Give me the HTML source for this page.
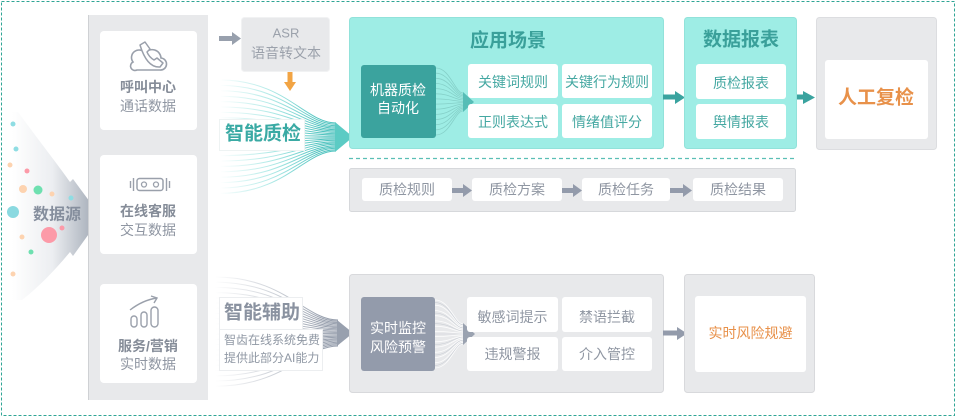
<!DOCTYPE html>
<html><head><meta charset="utf-8">
<style>
html,body{margin:0;padding:0;background:#fff;}
body{width:957px;height:418px;overflow:hidden;}
svg{display:block;}
text{font-family:"Liberation Sans","Noto Sans CJK SC",sans-serif;dominant-baseline:central;}
.c{text-anchor:middle;}
.g{fill:#8f96a2;font-size:14px;}
.gb{fill:#858c98;font-size:14px;font-weight:bold;}
.t{fill:#45a8a2;font-size:14px;}
</style></head>
<body>
<svg width="957" height="418" viewBox="0 0 957 418" xmlns="http://www.w3.org/2000/svg">
<defs>
<linearGradient id="ds" x1="12" y1="0" x2="102" y2="0" gradientUnits="userSpaceOnUse">
<stop offset="0" stop-color="#ffffff"/><stop offset="0.45" stop-color="#eceef1"/><stop offset="1" stop-color="#97a0ad"/></linearGradient>
<linearGradient id="ft" x1="220" y1="0" x2="318" y2="0" gradientUnits="userSpaceOnUse">
<stop offset="0" stop-color="#7fdcd8" stop-opacity="0"/><stop offset="0.5" stop-color="#7fdcd8" stop-opacity="0.6"/><stop offset="1" stop-color="#4fc3bf"/></linearGradient>
<linearGradient id="fb" x1="215" y1="0" x2="322" y2="0" gradientUnits="userSpaceOnUse">
<stop offset="0" stop-color="#b4bac4" stop-opacity="0"/><stop offset="0.5" stop-color="#b4bac4" stop-opacity="0.6"/><stop offset="1" stop-color="#98a0ae"/></linearGradient>
</defs>

<!-- outer dashed border -->
<rect x="1.5" y="1.5" width="953" height="414" fill="none" stroke="#2fa595" stroke-width="1" stroke-dasharray="3 2"/>

<!-- data source arrow -->
<path d="M18,112 C40,142 58,165 70,182 L73,179 L101,217 L73,256 L70,252 C55,270 40,286 22,300 L12,300 L12,112 Z" fill="url(#ds)"/>
<g>
<circle cx="13" cy="124" r="2.5" fill="#8fdde3"/>
<circle cx="16" cy="149" r="2.5" fill="#8fdde3"/>
<circle cx="10" cy="165" r="2.5" fill="#fdd3b0"/>
<circle cx="27" cy="171" r="2.5" fill="#fc9aa8"/>
<circle cx="23" cy="189" r="4" fill="#fdd3b0"/>
<circle cx="38" cy="190" r="4.5" fill="#6ee0b0"/>
<circle cx="52" cy="194" r="2.5" fill="#fdd3b0"/>
<circle cx="71" cy="198" r="2.5" fill="#8fdde3"/>
<circle cx="13" cy="212" r="6" fill="#8ad9e0"/>
<circle cx="62" cy="228" r="2.5" fill="#fc9aa8"/>
<circle cx="49" cy="235" r="8" fill="#fc9aa8"/>
<circle cx="22" cy="237" r="2.5" fill="#fdd3b0"/>
<circle cx="31" cy="252" r="2.5" fill="#6ee0b0"/>
<circle cx="13" cy="274" r="2.5" fill="#fdd3b0"/>
</g>
<text x="57" y="215" class="c" style="fill:#858e9d;font-size:16px;font-weight:bold;">数据源</text>

<!-- left column -->
<rect x="89" y="15" width="119" height="385" fill="#e8e9eb"/>
<line x1="88.5" y1="15" x2="88.5" y2="400" stroke="#cfd1d4"/>
<rect x="100" y="31" width="97" height="99" rx="4" fill="#fff"/>
<rect x="100" y="155" width="97" height="99" rx="4" fill="#fff"/>
<rect x="100" y="284" width="97" height="99" rx="4" fill="#fff"/>

<!-- icon 1 cloud phone -->
<path d="M137,70 H160 A6,6 0 0 0 161,58 A9,9 0 0 0 145,53 A7,7 0 0 0 133,62 A4,4 0 0 0 137,70 Z" fill="#fff" stroke="#9aa0ab" stroke-width="1.6"/>
<path d="M140,45 L145,42 L150,49 L147,52 Q149,57 154,60 L157,58 L163,63 L160,67 Q147,68 140,45 Z" fill="#fff" stroke="#9aa0ab" stroke-width="1.5" stroke-linejoin="round"/>
<text x="148" y="87" class="c gb">呼叫中心</text>
<text x="148" y="106" class="c g">通话数据</text>

<!-- icon 2 robot -->
<rect x="137" y="178.5" width="26" height="12" rx="2.5" fill="none" stroke="#9aa0ab" stroke-width="1.5"/>
<circle cx="144" cy="184.5" r="2.5" fill="none" stroke="#9aa0ab" stroke-width="1.3"/>
<circle cx="156" cy="184.5" r="2.5" fill="none" stroke="#9aa0ab" stroke-width="1.3"/>
<line x1="130.5" y1="181" x2="130.5" y2="188" stroke="#9aa0ab" stroke-width="1.4"/>
<line x1="133.5" y1="178" x2="133.5" y2="191" stroke="#9aa0ab" stroke-width="1.4"/>
<line x1="166.5" y1="178" x2="166.5" y2="191" stroke="#9aa0ab" stroke-width="1.4"/>
<line x1="169.5" y1="181" x2="169.5" y2="188" stroke="#9aa0ab" stroke-width="1.4"/>
<text x="148" y="211" class="c gb">在线客服</text>
<text x="148" y="230" class="c g">交互数据</text>

<!-- icon 3 chart -->
<rect x="131" y="316" width="6" height="11" rx="3" fill="none" stroke="#9aa0ab" stroke-width="1.4"/>
<rect x="141" y="312" width="6" height="15" rx="3" fill="none" stroke="#9aa0ab" stroke-width="1.4"/>
<rect x="151" y="307" width="7" height="20" rx="3.5" fill="none" stroke="#9aa0ab" stroke-width="1.4"/>
<path d="M130,310 Q143,300 157,298" fill="none" stroke="#9aa0ab" stroke-width="1.4"/>
<polyline points="151,296 157,298 154,303" fill="none" stroke="#9aa0ab" stroke-width="1.4"/>
<text x="148" y="346" class="c gb">服务/营销</text>
<text x="148" y="364" class="c g">实时数据</text>

<!-- ASR -->
<rect x="219" y="36" width="13" height="5" fill="#98a0ad"/>
<polygon points="232,32 232,45 241,38.5" fill="#98a0ad"/>
<rect x="241.5" y="17.5" width="88" height="54" rx="3" fill="#e8e9eb" stroke="#f1f2f3"/>
<text x="286" y="33" class="c" style="fill:#9ba1ab;font-size:13px;">ASR</text>
<text x="286" y="53" class="c" style="fill:#9ba1ab;font-size:14px;">语音转文本</text>
<rect x="287.5" y="72" width="5" height="10" fill="#f2a444"/>
<polygon points="284,82 296,82 290,91" fill="#f2a444"/>

<!-- top fan -->
<g fill="none" stroke="url(#ft)" stroke-width="1">
<path d="M220,80 C285,80 305,123 336,123"/>
<path d="M220,85.4 C285,85.4 305,124.3 336,124.3"/>
<path d="M220,90.8 C285,90.8 305,125.7 336,125.7"/>
<path d="M220,96.2 C285,96.2 305,127 336,127"/>
<path d="M220,101.6 C285,101.6 305,128.3 336,128.3"/>
<path d="M220,107 C285,107 305,129.7 336,129.7"/>
<path d="M220,112.4 C285,112.4 305,131 336,131"/>
<path d="M220,117.8 C285,117.8 305,132.3 336,132.3"/>
<path d="M220,123.2 C285,123.2 305,133.7 336,133.7"/>
<path d="M220,128.6 C285,128.6 305,135 336,135"/>
<path d="M220,134 C285,134 305,136.3 336,136.3"/>
<path d="M220,139.4 C285,139.4 305,137.7 336,137.7"/>
<path d="M220,144.8 C285,144.8 305,139 336,139"/>
<path d="M220,150.2 C285,150.2 305,140.3 336,140.3"/>
<path d="M220,155.6 C285,155.6 305,141.7 336,141.7"/>
<path d="M220,161 C285,161 305,143 336,143"/>
<path d="M220,166.4 C285,166.4 305,144.3 336,144.3"/>
<path d="M220,171.8 C285,171.8 305,145.7 336,145.7"/>
<path d="M220,177.2 C285,177.2 305,147 336,147"/>
<path d="M220,182.6 C285,182.6 305,148.3 336,148.3"/>
<path d="M220,188 C285,188 305,149.7 336,149.7"/>
<path d="M220,193.4 C285,193.4 305,151 336,151"/>
</g>
<polygon points="335,122 335,152 353,137" fill="#5ccbc4"/>
<rect x="219.5" y="119.5" width="85" height="31" fill="#fff" stroke="#eef3f3"/>
<text x="225" y="134" style="fill:#3aaaa4;font-size:19px;font-weight:bold;">智能质检</text>

<!-- bottom fan -->
<g fill="none" stroke="url(#fb)" stroke-width="1">
<path d="M215,277 C285,277 305,320 338,320"/>
<path d="M215,282.2 C285,282.2 305,321.2 338,321.2"/>
<path d="M215,287.4 C285,287.4 305,322.5 338,322.5"/>
<path d="M215,292.6 C285,292.6 305,323.7 338,323.7"/>
<path d="M215,297.8 C285,297.8 305,325 338,325"/>
<path d="M215,303 C285,303 305,326.2 338,326.2"/>
<path d="M215,308.2 C285,308.2 305,327.4 338,327.4"/>
<path d="M215,313.4 C285,313.4 305,328.7 338,328.7"/>
<path d="M215,318.6 C285,318.6 305,329.9 338,329.9"/>
<path d="M215,323.8 C285,323.8 305,331.1 338,331.1"/>
<path d="M215,329 C285,329 305,332.4 338,332.4"/>
<path d="M215,334.2 C285,334.2 305,333.6 338,333.6"/>
<path d="M215,339.4 C285,339.4 305,334.9 338,334.9"/>
<path d="M215,344.6 C285,344.6 305,336.1 338,336.1"/>
<path d="M215,349.8 C285,349.8 305,337.3 338,337.3"/>
<path d="M215,355 C285,355 305,338.6 338,338.6"/>
<path d="M215,360.2 C285,360.2 305,339.8 338,339.8"/>
<path d="M215,365.4 C285,365.4 305,341 338,341"/>
<path d="M215,370.6 C285,370.6 305,342.3 338,342.3"/>
<path d="M215,375.8 C285,375.8 305,343.5 338,343.5"/>
<path d="M215,381 C285,381 305,344.8 338,344.8"/>
<path d="M215,386.2 C285,386.2 305,346 338,346"/>
</g>
<polygon points="337,320 337,346 353,333" fill="#98a0ae"/>
<rect x="219.5" y="297.5" width="83" height="32" fill="#fff" stroke="#eceef0"/>
<rect x="219.5" y="329.5" width="103" height="41" fill="#fff" stroke="#eceef0"/>
<text x="224" y="313" style="fill:#8a92a0;font-size:19px;font-weight:bold;">智能辅助</text>
<text x="224" y="340" style="fill:#9098a4;font-size:12px;">智齿在线系统免费</text>
<text x="224" y="358" style="fill:#9098a4;font-size:12px;">提供此部分AI能力</text>

<!-- 应用场景 -->
<rect x="349.5" y="17.5" width="314" height="131" rx="3" fill="#9eede5" stroke="#92e2da"/>
<text x="508" y="41" class="c" style="fill:#3aa09a;font-size:19px;font-weight:bold;">应用场景</text>
<g fill="none" stroke="#7fc9c2" stroke-width="0.8" opacity="0.8">
<path d="M436,68 C450,68 455,93 463,93"/>
<path d="M436,73.2 C450,73.2 455,94.4 463,94.4"/>
<path d="M436,78.3 C450,78.3 455,95.8 463,95.8"/>
<path d="M436,83.5 C450,83.5 455,97.2 463,97.2"/>
<path d="M436,88.6 C450,88.6 455,98.5 463,98.5"/>
<path d="M436,93.8 C450,93.8 455,99.9 463,99.9"/>
<path d="M436,98.9 C450,98.9 455,101.3 463,101.3"/>
<path d="M436,104.1 C450,104.1 455,102.7 463,102.7"/>
<path d="M436,109.2 C450,109.2 455,104.1 463,104.1"/>
<path d="M436,114.4 C450,114.4 455,105.5 463,105.5"/>
<path d="M436,119.5 C450,119.5 455,106.8 463,106.8"/>
<path d="M436,124.7 C450,124.7 455,108.2 463,108.2"/>
<path d="M436,129.8 C450,129.8 455,109.6 463,109.6"/>
<path d="M436,135 C450,135 455,111 463,111"/>
</g>
<polygon points="463,92 463,112 474,102" fill="#56bdb6"/>
<rect x="361" y="65" width="75" height="73" rx="3" fill="#3ba39e"/>
<text x="398" y="90" class="c" style="fill:#fff;font-size:14px;">机器质检</text>
<text x="398" y="108" class="c" style="fill:#fff;font-size:14px;">自动化</text>
<rect x="468" y="64" width="90" height="34" rx="3" fill="#fff"/>
<rect x="562" y="64" width="90" height="34" rx="3" fill="#fff"/>
<rect x="468" y="104" width="90" height="34" rx="3" fill="#fff"/>
<rect x="562" y="104" width="90" height="34" rx="3" fill="#fff"/>
<text x="513" y="82" class="c t">关键词规则</text>
<text x="607" y="82" class="c t">关键行为规则</text>
<text x="513" y="122" class="c t">正则表达式</text>
<text x="607" y="122" class="c t">情绪值评分</text>

<!-- teal arrows -->
<rect x="663" y="94.5" width="12" height="5" fill="#3aa39f"/>
<polygon points="675,91 675,104 685,97.5" fill="#3aa39f"/>
<rect x="788" y="94.5" width="15" height="5" fill="#3aa39f"/>
<polygon points="803,91 803,104 815,97.5" fill="#3aa39f"/>

<!-- 数据报表 -->
<rect x="684.5" y="17.5" width="112" height="131" rx="3" fill="#9eede5" stroke="#92e2da"/>
<text x="741" y="40" class="c" style="fill:#3aa09a;font-size:19px;font-weight:bold;">数据报表</text>
<rect x="696" y="64" width="90" height="35" rx="3" fill="#fff"/>
<rect x="696" y="104" width="90" height="35" rx="3" fill="#fff"/>
<text x="741" y="83" class="c t">质检报表</text>
<text x="741" y="122" class="c t">舆情报表</text>

<!-- 人工复检 -->
<rect x="816.5" y="17.5" width="120" height="132" rx="3" fill="#e8e9eb" stroke="#dcdde0"/>
<rect x="825" y="60" width="103" height="79" rx="3" fill="#fff"/>
<text x="876" y="98" class="c" style="fill:#e8914a;font-size:19px;font-weight:bold;">人工复检</text>

<!-- dashed separator -->
<line x1="349" y1="158.5" x2="797" y2="158.5" stroke="#5bbfb5" stroke-width="1.3" stroke-dasharray="4 3"/>

<!-- process row -->
<rect x="349.5" y="168.5" width="446" height="43" rx="2" fill="#e8e9eb" stroke="#d6d8db"/>
<rect x="362" y="178" width="90" height="23" rx="3" fill="#fff"/>
<rect x="472" y="178" width="90" height="23" rx="3" fill="#fff"/>
<rect x="582" y="178" width="88" height="23" rx="3" fill="#fff"/>
<rect x="693" y="178" width="90" height="23" rx="3" fill="#fff"/>
<text x="407" y="189.5" class="c g">质检规则</text>
<text x="517" y="189.5" class="c g">质检方案</text>
<text x="626" y="189.5" class="c g">质检任务</text>
<text x="738" y="189.5" class="c g">质检结果</text>
<g fill="#939bab">
<rect x="452" y="188" width="11" height="5"/><polygon points="463,184 463,197 472,190.5"/>
<rect x="562" y="188" width="11" height="5"/><polygon points="573,184 573,197 582,190.5"/>
<rect x="670" y="188" width="13" height="5"/><polygon points="683,184 683,197 692,190.5"/>
</g>

<!-- bottom section -->
<rect x="349.5" y="274.5" width="314" height="118" rx="3" fill="#e8e9eb" stroke="#d8d9dc"/>
<g fill="none" stroke="#ffffff" stroke-width="0.8" opacity="0.9">
<path d="M435,300 C450,300 455,324 463,324"/>
<path d="M435,305.2 C450,305.2 455,325.5 463,325.5"/>
<path d="M435,310.5 C450,310.5 455,327.1 463,327.1"/>
<path d="M435,315.7 C450,315.7 455,328.6 463,328.6"/>
<path d="M435,320.9 C450,320.9 455,330.2 463,330.2"/>
<path d="M435,326.2 C450,326.2 455,331.7 463,331.7"/>
<path d="M435,331.4 C450,331.4 455,333.2 463,333.2"/>
<path d="M435,336.6 C450,336.6 455,334.8 463,334.8"/>
<path d="M435,341.8 C450,341.8 455,336.3 463,336.3"/>
<path d="M435,347.1 C450,347.1 455,337.8 463,337.8"/>
<path d="M435,352.3 C450,352.3 455,339.4 463,339.4"/>
<path d="M435,357.5 C450,357.5 455,340.9 463,340.9"/>
<path d="M435,362.8 C450,362.8 455,342.5 463,342.5"/>
<path d="M435,368 C450,368 455,344 463,344"/>
</g>
<g fill="none" stroke="#c3c8d0" stroke-width="0.6" opacity="0.8">
<path d="M435,302.6 C450,302.6 455,324.8 463,324.8"/>
<path d="M435,313.1 C450,313.1 455,327.9 463,327.9"/>
<path d="M435,323.6 C450,323.6 455,331 463,331"/>
<path d="M435,334 C450,334 455,334 463,334"/>
<path d="M435,344.5 C450,344.5 455,337 463,337"/>
<path d="M435,355 C450,355 455,340.2 463,340.2"/>
<path d="M435,365.4 C450,365.4 455,343.3 463,343.3"/>
</g>
<polygon points="463,323 463,345 475,334" fill="#9aa2b0"/>
<rect x="361" y="297" width="74" height="74" rx="3" fill="#939bab"/>
<text x="398" y="328" class="c" style="fill:#fff;font-size:14px;">实时监控</text>
<text x="398" y="347" class="c" style="fill:#fff;font-size:14px;">风险预警</text>
<rect x="467" y="297" width="91" height="35" rx="3" fill="#fff"/>
<rect x="562" y="297" width="90" height="35" rx="3" fill="#fff"/>
<rect x="467" y="337" width="91" height="34" rx="3" fill="#fff"/>
<rect x="562" y="337" width="90" height="34" rx="3" fill="#fff"/>
<text x="512.5" y="317" class="c g">敏感词提示</text>
<text x="607" y="317" class="c g">禁语拦截</text>
<text x="512.5" y="354" class="c g">违规警报</text>
<text x="607" y="354" class="c g">介入管控</text>

<rect x="663" y="330.5" width="14" height="5" fill="#939bab"/>
<polygon points="677,327 677,340 687,333.5" fill="#939bab"/>

<rect x="684.5" y="274.5" width="130" height="118" rx="3" fill="#e8e9eb" stroke="#d8d9dc"/>
<rect x="695" y="296" width="111" height="76" rx="3" fill="#fff"/>
<text x="750.5" y="333" class="c" style="fill:#e8914a;font-size:14px;">实时风险规避</text>
</svg>
</body></html>
